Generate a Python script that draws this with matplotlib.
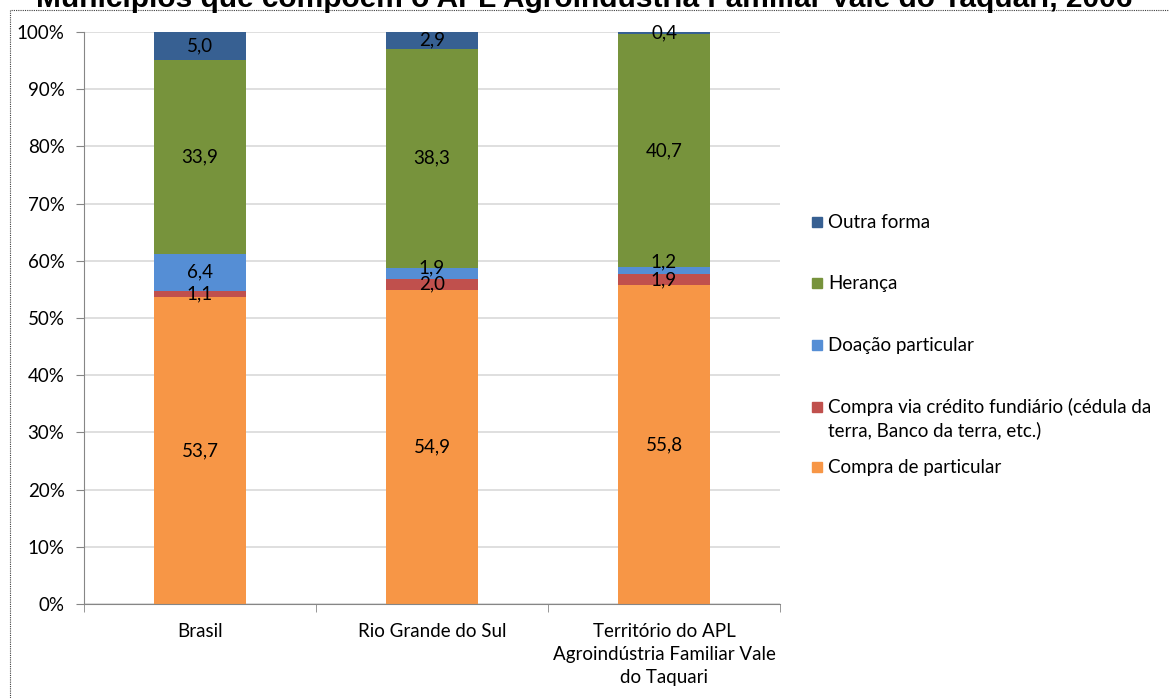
#!/usr/bin/env python
# stacked 100% bars: forma de obtencao das terras, Censo Agropecuario 2006

import matplotlib
matplotlib.use("Agg")
from matplotlib import pyplot as plt
from matplotlib.patches import Rectangle
import numpy as np

plt.rcParams['font.family'] = ['Lato', 'DejaVu Sans']

regioes = ['Brasil', 'Rio Grande do Sul',
           'Território do APL\nAgroindústria Familiar Vale\ndo Taquari']

# from bottom to top of each bar
compra_particular = [53.7, 54.9, 55.8]
compra_credito = [1.1, 2.0, 1.9]
doacao = [6.4, 1.9, 1.2]
heranca = [33.9, 38.3, 40.7]
outra = [5.0, 2.9, 0.4]

series = ['Compra de particular',
          'Compra via crédito fundiário (cédula da\nterra, Banco da terra, etc.)',
          'Doação particular', 'Herança', 'Outra forma']
valores = [compra_particular, compra_credito, doacao, heranca, outra]
cores = ['#F79646', '#C0504D', '#558ED5', '#77933C', '#376092']

# small nudges (pixels up) for labels that would collide, as Excel does
nudge = {(2, 1): 5, (2, 2): 9}

fig = plt.figure(figsize=(11.69, 6.98), dpi=100)
W, H = 1169, 698
ax = fig.add_axes([84 / W, 1 - 604 / H, 696 / W, 572 / H])

FS = 13.5
x = np.arange(len(regioes))
base = np.zeros(len(regioes))
for i, (vals, cor) in enumerate(zip(valores, cores)):
    vals = np.array(vals)
    ax.bar(x, vals, 0.397, bottom=base, color=cor, zorder=2)
    for xi, b, v in zip(x, base, vals):
        dy = nudge.get((i, xi), 0) * 0.72
        ax.annotate(f'{v:.1f}'.replace('.', ','), xy=(xi, b + v / 2),
                    xytext=(0, dy), textcoords='offset points',
                    ha='center', va='center', fontsize=FS, color='black', zorder=3)
    base = base + vals

ax.set_xlim(-0.5, 2.5)
ax.set_ylim(0, 100)
ax.set_yticks(range(0, 101, 10))
ax.set_yticklabels([f'{t}%' for t in range(0, 101, 10)], fontsize=FS)
ax.set_xticks(x)
ax.set_xticklabels(regioes, fontsize=FS, linespacing=1.4)
ax.set_xticks([-0.5, 0.5, 1.5, 2.5], minor=True)
ax.tick_params(axis='x', which='major', length=0, pad=14)
ax.tick_params(axis='x', which='minor', length=6, color='#868686')
ax.tick_params(axis='y', length=6, color='#868686', pad=8)
ax.yaxis.grid(True, color='#D9D9D9', linewidth=1.2, zorder=0)
for s in ['top', 'right']:
    ax.spines[s].set_visible(False)
for s in ['left', 'bottom']:
    ax.spines[s].set_color('#868686')

# legend, Excel style (top entry first)
leg_y = [222, 283, 345, 407, 467]
for nome, cor, y in zip(series[::-1], cores[::-1], leg_y):
    fig.patches.append(Rectangle((812 / W, 1 - (y + 5) / H), 10 / W, 10 / H,
                                 transform=fig.transFigure, color=cor))
    ty = y + 11.5 if '\n' in nome else y
    fig.text(828 / W, 1 - ty / H, nome, fontsize=FS, va='center',
             linespacing=1.35)

# dotted frame around the chart
fig.patches.append(Rectangle((10 / W, -0.05), 1.2, 1 - 10 / H + 0.05,
                             transform=fig.transFigure, fill=False,
                             linestyle=(0, (1, 1)), linewidth=0.8, color='#404040'))

# title, top line is cut off in the original
fig.text(0.5, 1 - 7 / H,
         'Municípios que compõem o APL Agroindústria Familiar Vale do Taquari, 2006',
         ha='center', va='baseline', fontsize=21.5, fontweight='bold',
         family='Liberation Sans')

fig.savefig('out.png', dpi=100)
